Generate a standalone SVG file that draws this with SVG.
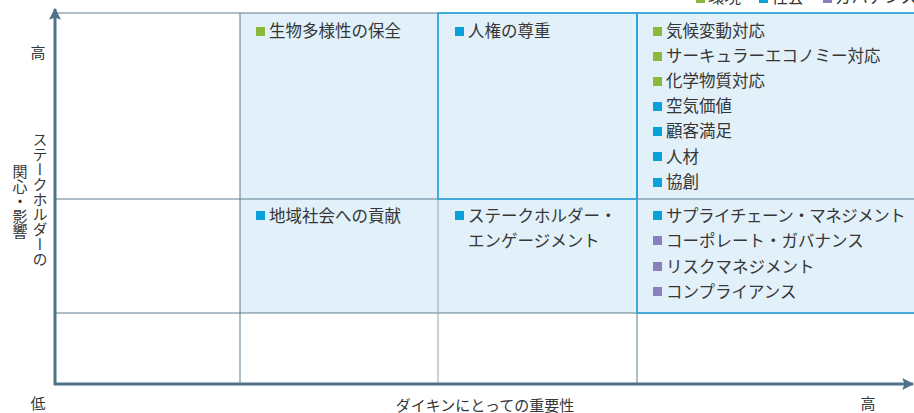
<svg xmlns="http://www.w3.org/2000/svg" width="914" height="413" viewBox="0 0 914 413">
<defs>
<style>
text{font-family:"Noto Sans CJK JP","Noto Sans",sans-serif;fill:#363636}
.t{font-size:16.5px}
.ax{font-size:15px}
.grid{stroke:#5f7d8e;stroke-width:1;fill:none}
.gridl{stroke:#8ea4b1;stroke-width:1;fill:none}
.hl{stroke:#2aa6de;stroke-width:1.6;fill:none}
.axis{stroke:#4e7288;stroke-width:3;fill:none}
.g{fill:#8ab83a}.b{fill:#0aa0d9}.p{fill:#8a80be}
</style>
<marker id="ah" viewBox="0 0 10 10" refX="9" refY="5" markerWidth="4" markerHeight="4" orient="auto" markerUnits="strokeWidth">
<path d="M0,0 L10,5 L0,10 L2,5 z" fill="#4e7288"/>
</marker>
</defs>
<rect width="914" height="413" fill="#fff"/>
<g id="legend">
<rect class="g" x="696" y="-6" width="9" height="9"/><text class="t" x="708" y="3">環境</text>
<rect class="b" x="759" y="-6" width="9" height="9"/><text class="t" x="771" y="3">社会</text>
<rect class="p" x="823" y="-6" width="9" height="9"/><text class="t" x="835" y="3">ガバナンス</text>
</g>
<g id="grid">
<rect x="240" y="13" width="674" height="300" fill="#e1f0f9"/>
<line class="grid" x1="55" y1="13" x2="914" y2="13"/>
<line class="grid" x1="55" y1="199" x2="914" y2="199"/>
<line class="grid" x1="55" y1="313" x2="914" y2="313"/>
<line class="grid" x1="240" y1="13" x2="240" y2="384"/>
<line class="gridl" x1="438" y1="13" x2="438" y2="384"/>
<line class="grid" x1="637" y1="13" x2="637" y2="384"/>
<rect class="hl" x="438" y="13" width="199" height="186"/>
<path class="hl" d="M914,13 H637 V313 H914"/>
</g>
<g id="axes">
<line class="axis" x1="55" y1="385" x2="55" y2="9" marker-end="url(#ah)"/>
<line class="axis" x1="54" y1="384" x2="913" y2="384" marker-end="url(#ah)"/>
<text class="ax" x="38" y="58" text-anchor="middle">高</text>
<text class="ax" x="38" y="409" text-anchor="middle">低</text>
<text class="ax" x="868" y="409" text-anchor="middle">高</text>
<text class="ax" x="485" y="411" text-anchor="middle">ダイキンにとっての重要性</text>
<text class="ax" x="40" y="199" text-anchor="middle" style="writing-mode:vertical-rl">ステークホルダーの</text>
<text class="ax" x="20" y="201" text-anchor="middle" style="writing-mode:vertical-rl">関心・影響</text>
</g>
<g id="cell-biodiversity">
<rect class="g" x="256" y="27" width="9" height="9"/><text class="t" x="269" y="37">生物多様性の保全</text>
</g>
<g id="cell-human-rights">
<rect class="b" x="455" y="27" width="9" height="9"/><text class="t" x="468" y="37">人権の尊重</text>
</g>
<g id="cell-high-high">
<rect class="g" x="653" y="27" width="9" height="9"/><text class="t" x="666" y="37">気候変動対応</text>
<rect class="g" x="653" y="52" width="9" height="9"/><text class="t" x="666" y="62">サーキュラーエコノミー対応</text>
<rect class="g" x="653" y="77" width="9" height="9"/><text class="t" x="666" y="87">化学物質対応</text>
<rect class="b" x="653" y="102" width="9" height="9"/><text class="t" x="666" y="112">空気価値</text>
<rect class="b" x="653" y="127" width="9" height="9"/><text class="t" x="666" y="137">顧客満足</text>
<rect class="b" x="653" y="152" width="9" height="9"/><text class="t" x="666" y="163">人材</text>
<rect class="b" x="653" y="178" width="9" height="9"/><text class="t" x="666" y="188">協創</text>
</g>
<g id="cell-community">
<rect class="b" x="256" y="211" width="9" height="9"/><text class="t" x="269" y="222">地域社会への貢献</text>
</g>
<g id="cell-engagement">
<rect class="b" x="455" y="211" width="9" height="9"/><text class="t" x="468" y="222">ステークホルダー・</text>
<text class="t" x="468" y="247">エンゲージメント</text>
</g>
<g id="cell-governance">
<rect class="b" x="653" y="211" width="9" height="9"/><text class="t" x="666" y="222" letter-spacing="-0.5">サプライチェーン・マネジメント</text>
<rect class="p" x="653" y="236" width="9" height="9"/><text class="t" x="666" y="247">コーポレート・ガバナンス</text>
<rect class="p" x="653" y="262" width="9" height="9"/><text class="t" x="666" y="273">リスクマネジメント</text>
<rect class="p" x="653" y="287" width="9" height="9"/><text class="t" x="666" y="298">コンプライアンス</text>
</g>
</svg>
